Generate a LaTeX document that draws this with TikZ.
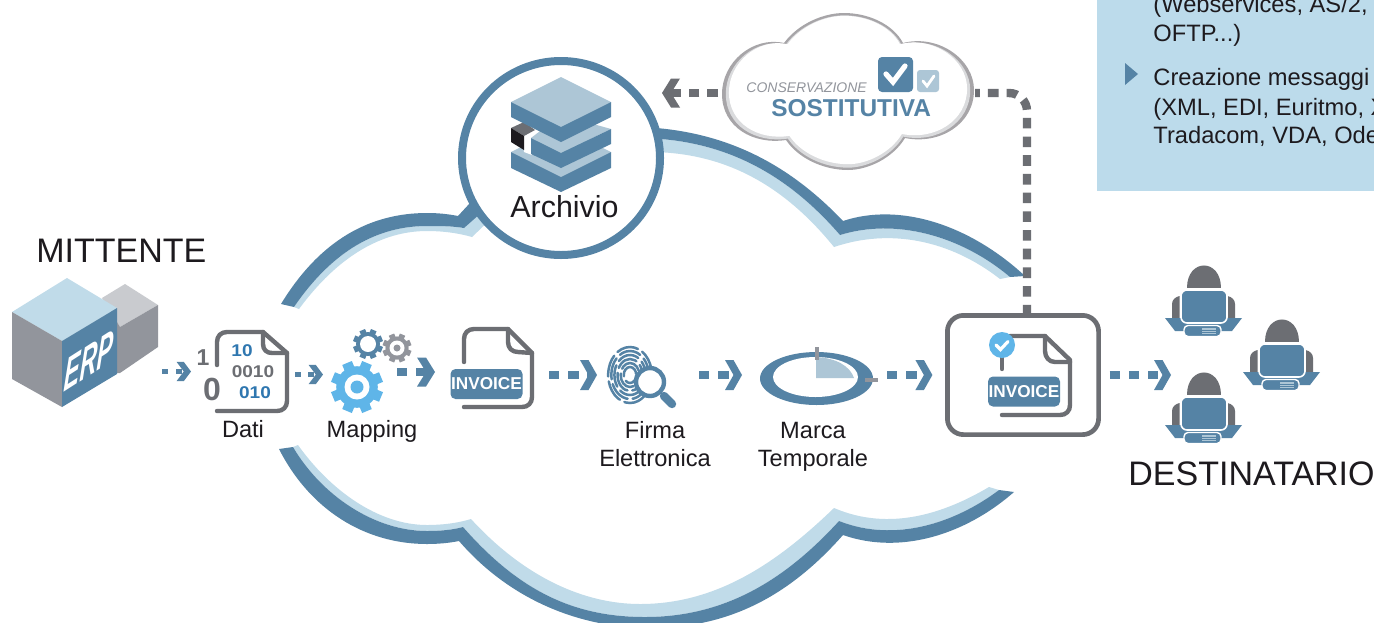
\documentclass[tikz,border=0pt]{standalone}
\usepackage{fontspec}
\setmainfont{Liberation Sans}
\usetikzlibrary{arrows.meta}
\definecolor{cblue}{HTML}{5583A5}
\definecolor{clight}{HTML}{C0DBE9}
\definecolor{cpanel}{HTML}{BCDBEB}
\definecolor{cmid}{HTML}{ADC6D6}
\definecolor{csky}{HTML}{5FB5E8}
\definecolor{cgrey}{HTML}{6C6E73}
\definecolor{cside}{HTML}{92959C}
\definecolor{ctop}{HTML}{C9CBCF}
\definecolor{cring}{HTML}{A7A5A8}
\definecolor{cband}{HTML}{DADBDD}
\definecolor{cink}{HTML}{1D1A1E}
\definecolor{cbit}{HTML}{2F77B0}
\pgfdeclarearrow{
  name=Chev,
  defaults={length=8.5pt,width=15pt},
  setup code={
    \pgfarrowssettipend{\pgfarrowlength}
    \pgfarrowssetbackend{0pt}
    \pgfarrowssetlineend{.55\pgfarrowlength}
    \pgfarrowssavethe\pgfarrowlength
    \pgfarrowssavethe\pgfarrowwidth
  },
  parameters={\the\pgfarrowlength,\the\pgfarrowwidth},
  drawing code={
    \pgfpathmoveto{\pgfpoint{0pt}{.5\pgfarrowwidth}}
    \pgfpathlineto{\pgfpoint{.5\pgfarrowlength}{.5\pgfarrowwidth}}
    \pgfpathlineto{\pgfpoint{\pgfarrowlength}{0pt}}
    \pgfpathlineto{\pgfpoint{.5\pgfarrowlength}{-.5\pgfarrowwidth}}
    \pgfpathlineto{\pgfpoint{0pt}{-.5\pgfarrowwidth}}
    \pgfpathlineto{\pgfpoint{.5\pgfarrowlength}{0pt}}
    \pgfpathclose
    \pgfusepathqfill
  }
}
\tikzset{
  iconbox/.style={inner sep=0pt,outer sep=0pt,minimum height=10pt},
  lab/.style={font=\fontsize{11.8}{14}\selectfont,text=cink,inner sep=0pt,anchor=base},
  big/.style={font=\fontsize{17}{20}\selectfont,text=cink,inner sep=0pt,anchor=base west},
  paneltext/.style={font=\fontsize{11.85}{14}\selectfont,text=cink,inner sep=0pt,anchor=base west},
  pageline/.style={draw=cgrey,line width=2.2pt,line cap=round,line join=round,fill=none},
  flow/.style={draw=cblue,line width=4pt,dash pattern=on 5.2pt off 4.4pt,-{Chev[length=8.5pt,width=15pt,color=cblue]}},
  flowsmall/.style={draw=cblue,line width=2.6pt,dash pattern=on 3pt off 4.2pt,-{Chev[length=7.2pt,width=9.6pt,color=cblue]}},
  greyflow/.style={draw=cgrey,line width=4.2pt,dash pattern=on 5.3pt off 4.05pt},
  tag/.style={fill=cblue,rounded corners=2.5pt,inner sep=0pt,minimum width=36pt,minimum height=15pt,text=white,font=\fontsize{8.6}{10}\bfseries\selectfont},
  bit/.style={font=\fontsize{8.5}{10}\bfseries\selectfont,inner sep=0pt,xscale=1.12},
  tickline/.style={draw=white,line cap=round,line join=miter},
  finger/.style={draw=cblue,line width=1.25pt,line cap=round},
}
\newcommand\gearicon[4]{%
  \fill[#4] (#1,#2) circle (.8*#3);
  \foreach \a in {0,45,...,135}
    \fill[#4,shift={(#1,#2)},rotate=\a+22.5] (-.2*#3,-#3) rectangle (.2*#3,#3);
}
\newcommand\personicon[2]{%
  \begin{scope}[shift={(#1,#2)}]
    \fill[cgrey] (1187,288) .. controls (1187,258) and (1221,258) .. (1221,288) -- cycle;
    \fill[cgrey] (1172,318) -- (1172,304) .. controls (1172,300) and (1175,297) .. (1179.5,296) -- (1179.5,318) -- cycle;
    \fill[cgrey] (1235,318) -- (1235,304) .. controls (1235,300) and (1232,297) .. (1227.5,296) -- (1227.5,318) -- cycle;
    \fill[cblue] (1165,318) -- (1242,318) -- (1232,331) -- (1175,331) -- cycle;
    \filldraw[fill=cblue,draw=white,line width=.8pt,rounded corners=3pt] (1181,290) rectangle (1227,323);
    \filldraw[fill=cblue,draw=white,line width=.7pt,rounded corners=2pt] (1184,325.5) rectangle (1221,336.5);
    \fill[cmid] (1202,328) rectangle (1216,334);
    \draw[cblue,line width=.25pt] (1202,330) -- (1216,330) (1202,332) -- (1216,332);
  \end{scope}
}
\newcommand\cloudoutline{%
  (-62,48) .. controls (-95,53) and (-126,35) .. (-126,2) .. controls (-126,-30) and (-95,-56) .. (-64,-49)
  .. controls (-50,-68) and (-25,-79) .. (-4,-79) .. controls (20,-79) and (45,-68) .. (55,-49)
  .. controls (90,-58) and (126,-33) .. (126,-2) .. controls (126,32) and (92,53) .. (57,46)
  .. controls (45,66) and (20,78) .. (0,78) .. controls (-25,78) and (-50,66) .. (-62,48) -- cycle}
\begin{document}
\begin{tikzpicture}[x=.5pt,y=-.5pt]
\useasboundingbox (0,0) rectangle (1374,622);
\clip (0,0) rectangle (1374,622);
\fill[white] (0,0) rectangle (1374,622);
% panel
\fill[cpanel] (1097,-5) rectangle (1380,191);
\node[paneltext] (p1) at (1153,12) {(Webservices, AS/2,};
\node[paneltext] (p2) at (1153,41) {OFTP...)};
\node[paneltext] (p3) at (1153,85) {Creazione messaggi};
\node[paneltext] (p4) at (1153,115) {(XML, EDI, Euritmo, X};
\node[paneltext] (p5) at (1153,143) {Tradacom, VDA, Ode};
\fill[cblue] (1125,63) -- (1138,74) -- (1125,85) -- cycle;
% big cloud: upper left
\fill[clight] (294,307) .. controls (333,250) and (378,226) .. (427,226) .. controls (440,226) and (452,226) .. (464,228) -- (485,205) -- (495,215) -- (472,237)
  .. controls (458,233) and (443,231) .. (427,231) .. controls (382,231) and (338,256) .. (299,309) -- cycle;
\fill[cblue] (281,304) .. controls (320,240) and (370,213) .. (427,213) .. controls (438,213) and (448,214) .. (458,216) -- (470,203) -- (485,190) -- (490,205) -- (464,228)
  .. controls (452,226) and (440,226) .. (427,226) .. controls (378,226) and (333,250) .. (294,307) -- cycle;
% upper right
\fill[clight] (640,138) .. controls (717,139) and (782,168) .. (840,235) .. controls (895,218) and (960,235) .. (1010,277) -- (1000,279)
  .. controls (950,240) and (890,228) .. (834,247) .. controls (778,178) and (715,150) .. (640,152) -- cycle;
\fill[cblue] (640,127) .. controls (720,130) and (785,160) .. (843,221) .. controls (900,202) and (970,225) .. (1025,276) -- (1010,277)
  .. controls (960,235) and (895,218) .. (840,235) .. controls (782,168) and (717,139) .. (640,138) -- cycle;
% lower
\fill[clight] (293,447) .. controls (322,496) and (375,531) .. (427,531) .. controls (440,531) and (452,530) .. (463,527)
  .. controls (520,592) and (575,617) .. (645,617) .. controls (725,617) and (785,580) .. (839,521)
  .. controls (895,543) and (955,523) .. (999,490) -- (989,487)
  .. controls (945,513) and (890,532) .. (834,508) .. controls (775,565) and (715,604) .. (640,604)
  .. controls (585,604) and (525,578) .. (471,519) .. controls (458,523) and (443,525) .. (427,525)
  .. controls (378,525) and (330,490) .. (298,445) -- cycle;
\fill[cblue] (279,449) .. controls (310,510) and (365,544) .. (427,544) .. controls (438,544) and (449,543) .. (459,541)
  .. controls (510,600) and (580,628) .. (650,628) .. controls (730,628) and (790,595) .. (843,535)
  .. controls (900,555) and (965,535) .. (1014,492) -- (999,490)
  .. controls (955,523) and (895,543) .. (839,521) .. controls (785,580) and (725,617) .. (645,617)
  .. controls (575,617) and (520,592) .. (463,527) .. controls (452,530) and (440,531) .. (427,531)
  .. controls (375,531) and (322,496) .. (293,447) -- cycle;
% placeholders carrying the connector anchors
\node[iconbox,minimum width=75pt] (erp) at (87,372) {};
\node[iconbox,minimum width=52pt] (dati) at (243,371.5) {};
\node[iconbox,minimum width=37pt] (mapping) at (360,374.5) {};
\node[iconbox,minimum width=57pt] (inv1) at (492,372) {};
\node[iconbox,minimum width=51pt] (firma) at (648,375) {};
\node[iconbox,minimum width=72.5pt] (marca) at (814.5,375) {};
\node[iconbox,draw=cgrey,line width=2.35pt,rounded corners=8pt,minimum width=75.6pt,minimum height=59.6pt] (invbox) at (1023,375) {};
\node[iconbox,minimum width=74.5pt] (users) at (1245.5,375) {};
% ERP cubes
\fill[ctop] (102,298) -- (125,284) -- (158,305) -- (120,327) -- cycle;
\fill[cside] (117,322) -- (120,327) -- (158,305) -- (158,347) -- (120,373) -- (117,373) -- cycle;
\fill[clight] (67,278) -- (117,308) -- (62,341) -- (12,312) -- cycle;
\fill[cside] (12,312) -- (62,341) -- (62,407) -- (12,379) -- cycle;
\fill[cblue] (62,341) -- (117,308) -- (117,374) -- (62,407) -- cycle;
\node[inner sep=0pt,text=white,font=\fontsize{21}{24}\bfseries\itshape\selectfont,cm={.56,.36,.08,1.12,(0,0)}] (erptxt) at (89,361) {ERP};
% Dati
\draw[pageline] (217,365) -- (217,342) .. controls (217,336) and (221,332) .. (227,332) -- (263,332) -- (287,353) -- (287,401) .. controls (287,407) and (283,411) .. (277,411) -- (217,411);
\draw[pageline] (263,332) -- (263,344) .. controls (263,350) and (267,353) .. (272,353) -- (287,353);
\node[text=cgrey,font=\fontsize{11.5}{12}\bfseries\selectfont,inner sep=0pt] (b1) at (203,358) {1};
\node[text=cgrey,font=\fontsize{16}{18}\bfseries\selectfont,inner sep=0pt] (b2) at (212,389) {0};
\node[bit,text=cbit] (b3) at (242,351) {10};
\node[bit,text=cgrey] (b4) at (253,372) {0010};
\node[bit,text=cbit] (b5) at (255,393) {010};
\node[lab] (dl) at (243,437) {Dati};
% Mapping
\gearicon{357}{387}{26}{csky}
\fill[white] (357,387) circle (12.5);
\fill[csky] (357,387) circle (6.5);
\gearicon{368}{344}{15}{cblue}
\fill[white] (368,344) circle (8);
\gearicon{397}{348}{14.5}{cside}
\fill[white] (397,348) circle (7.5);
\fill[cside] (397,348) circle (3.5);
\node[lab] (ml) at (372,437) {Mapping};
% Invoice 1
\draw[pageline] (464,362) -- (464,339) .. controls (464,333) and (468,329) .. (474,329) -- (508,329) -- (532,353) -- (532,397) .. controls (532,403) and (528,407) .. (522,407) -- (464,407);
\draw[pageline] (508,329) -- (508,342) .. controls (508,348) and (512,352) .. (518,352) -- (532,353);
\node[tag] (t1) at (486.5,384) {INVOICE};
% Firma
\foreach \r/\p in {8/3,12/7,16/1,20/5,24/9,28/2}
  \draw[finger,dash pattern=on 11pt off 2.5pt,dash phase=\p pt] (630,375) ellipse [x radius=.78*\r,y radius=\r];
\filldraw[fill=white,draw=cblue,line width=2.2pt] (650,382) circle (14);
\draw[cblue,line width=4.2pt,line cap=round] (664,396) -- (672,404);
\node[lab] (fl1) at (655,438) {Firma};
\node[lab] (fl2) at (655,466) {Elettronica};
% Marca
\fill[cblue] (816.5,378.5) ellipse [x radius=56.5,y radius=26.5];
\fill[white] (815.5,377) ellipse [x radius=42.5,y radius=20];
\fill[cmid] (816,378) -- (816,357) .. controls (836,358) and (850,366) .. (854,378) -- cycle;
\fill[cside] (815,347) rectangle (819,360);
\fill[cside] (865,378) rectangle (878,382);
\node[lab] (ml1) at (813,438) {Marca};
\node[lab] (ml2) at (813,466) {Temporale};
% flows
\draw[flowsmall] (erp.east |- dati.west) -- (dati.west);
\draw[flowsmall,dash pattern=on 3pt off 3.5pt] (dati.east |- mapping.west) -- (mapping.west);
\draw[flow,-{Chev[length=9pt,width=14.5pt,color=cblue]}] (mapping.east |- inv1.west) -- (inv1.west);
\draw[flow] (inv1.east |- firma.west) -- (firma.west);
\draw[flow] (firma.east) -- (marca.west);
\draw[flow,shorten >=7.5pt] (marca.east |- invbox.west) -- (invbox.west);
\draw[flow,shorten <=5.5pt] (invbox.east |- users.west) -- (users.west);
% Invoice 2
\draw[pageline] (1002,369) -- (1002,350);
\draw[pageline] (1010,336) -- (1045,336) -- (1070,360) -- (1070,405) .. controls (1070,411) and (1066,415) .. (1060,415) -- (1002,415);
\draw[pageline] (1045,336) -- (1045,351) .. controls (1045,357) and (1049,362) .. (1055,362) -- (1070,362);
\fill[csky] (1002,345) circle (13);
\draw[tickline,line width=1.6pt] (996,345) -- (1000.5,349.5) -- (1008,341.5);
\node[tag] (t2) at (1024,391.5) {INVOICE};
% users
\personicon{0}{0}
\personicon{78}{54}
\personicon{0}{107}
\node[big] (dest) at (1128,485) {DESTINATARIO};
\node[big] (mitt) at (36,262) {MITTENTE};
% archive
\filldraw[fill=white,draw=cblue,line width=4pt] (561,158) ellipse [x radius=99,y radius=97];
\coordinate (arcend) at (662,93);
\fill[cmid] (511,152) -- (561,127) -- (611,152) -- (561,177) -- cycle;
\fill[cblue] (511,152) -- (561,177) -- (611,152) -- (611,168) -- (561,192) -- (511,168) -- cycle;
\fill[white] (522,132) -- (545,122) -- (532,155) -- (524,152) -- cycle;
\fill[cgrey] (511,128) -- (524,122) -- (535,130) -- (524,136) -- cycle;
\fill[cink] (511,128) -- (524,136) -- (524,150) -- (511,142) -- cycle;
\fill[cmid] (531,138) -- (561,115) -- (611,129) -- (561,153) -- cycle;
\fill[cblue] (531,138) -- (561,153) -- (611,129) -- (611,144) -- (561,168) -- (531,154) -- cycle;
\fill[cmid] (511,102) -- (561,77) -- (611,102) -- (561,127) -- cycle;
\fill[cblue] (511,102) -- (561,127) -- (611,102) -- (611,117) -- (561,142) -- (511,117) -- cycle;
\node[lab,font=\fontsize{15.2}{18}\selectfont] (arch) at (564.5,217) {Archivio};
% conservazione cloud
\node[inner sep=0pt,outer sep=0pt,minimum width=126pt,minimum height=79pt] (cons) at (848,93) {};
\draw[greyflow,rounded corners=9pt] ([xshift=2pt]invbox.north) |- ([xshift=.5pt]cons.east);
\draw[greyflow,shorten <=2pt,-{Chev[length=9pt,width=14.5pt,color=cgrey]}] (cons.west) -- (arcend);
\begin{scope}[shift={(848,92)}]
  \fill[cring] \cloudoutline;
  \begin{scope}[scale=.97]\fill[cband] \cloudoutline;\end{scope}
  \begin{scope}[shift={(0,-1.5)},scale=.945]\fill[white] \cloudoutline;\end{scope}
\end{scope}
\node[inner sep=0pt,anchor=base west,text=cside,font=\fontsize{7}{8}\itshape\selectfont] (c1) at (746,92) {CONSERVAZIONE};
\node[inner sep=0pt,anchor=base west,text=cblue,font=\fontsize{12.2}{14}\bfseries\selectfont] (c2) at (771,116) {SOSTITUTIVA};
\fill[cblue,rounded corners=2pt] (878,57) rectangle (913,92);
\draw[tickline,line width=2.6pt] (886,74) -- (893,82) -- (905,66);
\fill[cmid,rounded corners=1.5pt] (917,70) rectangle (939,92);
\draw[tickline,line width=1.4pt] (923,81) -- (927,86) -- (934,76);
\end{tikzpicture}
\end{document}
